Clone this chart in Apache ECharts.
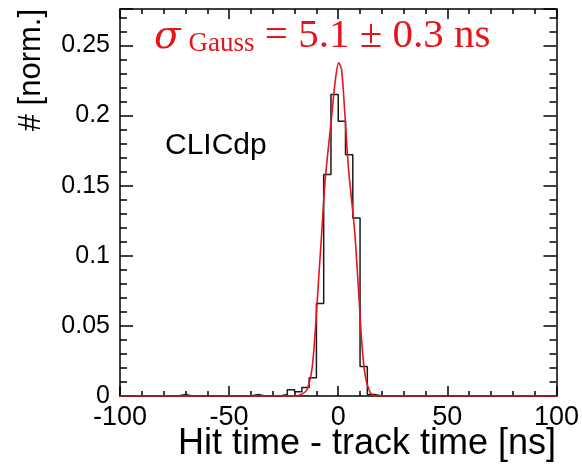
<!DOCTYPE html>
<html>
<head>
<meta charset="utf-8">
<title>CLICdp hit time</title>
<script src="https://cdn.jsdelivr.net/npm/echarts@6/dist/echarts.min.js"></script>
<style>
  html, body { margin: 0; padding: 0; background: #fff; }
</style>
</head>
<body>
<div id="res" style="width: 582px;height: 469px;"></div>
<script>
// histogram: 60 bins of 10/3 ns from -100 to 100
var binStart = -100;
var binWidth = 10 / 3;
var histValues = [
  0, 0, 0, 0, 0, 0, 0, 0, 0.001, 0,
  0, 0, 0, 0, 0, 0, 0, 0, 0.001, 0,
  0, 0, 0.001, 0.0045, 0.003, 0.006, 0.013, 0.066, 0.158, 0.215,
  0.196, 0.172, 0.127, 0.021, 0.001, 0, 0, 0, 0, 0,
  0, 0, 0, 0, 0, 0, 0, 0, 0, 0,
  0, 0, 0, 0, 0, 0, 0, 0, 0, 0
];

// gaussian fit curve
var fitX = [-100, -20, -17.5, -14.4, -12.1, -10.6, -9.1, -7.6, -6.1, -4.6, -3.0, -1.5, 0.2, 1.5, 3.1, 4.6, 6.1, 7.6, 9.1, 10.7, 12.2, 14.5, 16.8, 20, 100];
var fitY = [0, 0, 0.0007, 0.0043, 0.0186, 0.0448, 0.0805, 0.116, 0.152, 0.176, 0.1995, 0.223, 0.2376, 0.233, 0.1995, 0.164, 0.14, 0.116, 0.0805, 0.040, 0.016, 0.003, 0, 0, 0];

var xTicks = [-100, -50, 0, 50, 100];
var yTicks = [0, 0.05, 0.1, 0.15, 0.2, 0.25];

var histData = [];
for (var i = 0; i < histValues.length; i++) {
  histData.push([binStart + i * binWidth, histValues[i]]);
}
histData.push([100, histValues[histValues.length - 1]]);

var fitData = [];
for (var j = 0; j < fitX.length; j++) {
  fitData.push([fitX[j], fitY[j]]);
}

var font = 'Liberation Sans, Arial, Helvetica, sans-serif';
var red = '#e8141c';

var myChart = echarts.init(document.getElementById('res'));

function xAxisBase(pos, labels) {
  return {
    type: 'value',
    position: pos,
    min: xTicks[0],
    max: xTicks[xTicks.length - 1],
    interval: 50,
    axisLine: { show: true, onZero: false, lineStyle: { color: '#000', width: 1.5 } },
    axisTick: { show: true, inside: true, length: 10, lineStyle: { color: '#000', width: 1.5 } },
    minorTick: { show: true, splitNumber: 5, length: 5, lineStyle: { color: '#000', width: 1.5 } },
    splitLine: { show: false },
    axisLabel: { show: labels, color: '#000', fontSize: 27, fontFamily: font, margin: 8 }
  };
}

function yAxisBase(pos, labels) {
  return {
    type: 'value',
    position: pos,
    min: 0,
    max: 0.276,
    interval: 0.05,
    axisLine: { show: true, onZero: false, lineStyle: { color: '#000', width: 1.5 } },
    axisTick: { show: true, inside: true, length: 13, lineStyle: { color: '#000', width: 1.5 } },
    minorTick: { show: true, splitNumber: 5, length: 7, lineStyle: { color: '#000', width: 1.5 } },
    splitLine: { show: false },
    axisLabel: {
      show: labels, color: '#000', fontSize: 25, fontFamily: font, margin: 10,
      formatter: function (v) {
        for (var k = 0; k < yTicks.length; k++) {
          if (Math.abs(v - yTicks[k]) < 1e-6) return String(yTicks[k]);
        }
        return '';
      }
    }
  };
}

var option = {
  animation: false,
  grid: { left: 120, right: 25, top: 9, bottom: 73 },
  xAxis: [xAxisBase('bottom', true), xAxisBase('top', false)],
  yAxis: [yAxisBase('left', true), yAxisBase('right', false)],
  graphic: [
    {
      type: 'text', x: 47, y: 9, rotation: Math.PI / 2,
      style: { text: '# [norm.]', fill: '#000', font: '31px ' + font, align: 'right', verticalAlign: 'bottom' }
    },
    {
      type: 'text', x: 556, y: 426,
      style: { text: 'Hit time - track time [ns]', fill: '#000', font: '36px ' + font, align: 'right', verticalAlign: 'top' }
    },
    {
      type: 'text', left: 165, top: 131,
      style: { text: 'CLICdp', fill: '#000', font: '30px ' + font }
    },
    {
      type: 'text', left: 154, top: 16,
      style: {
        text: '{s|σ}{g|Gauss}{e| = 5.1 ± 0.3 ns}',
        fill: red,
        rich: {
          s: { fontSize: 39, fontStyle: 'italic', fontFamily: 'DejaVu Serif, serif', fill: red, verticalAlign: 'bottom' },
          g: { fontSize: 27, fontFamily: 'Liberation Serif, serif', fill: red, padding: [14, 0, 0, 8], verticalAlign: 'bottom' },
          e: { fontSize: 41, fontFamily: 'Liberation Serif, serif', fill: red, verticalAlign: 'bottom' }
        }
      }
    }
  ],
  series: [
    {
      name: 'hist',
      type: 'line',
      step: 'end',
      data: histData,
      symbol: 'none',
      lineStyle: { color: '#1a1a1a', width: 1.5 },
      z: 2
    },
    {
      name: 'fit',
      type: 'line',
      smooth: 0.3,
      data: fitData,
      symbol: 'none',
      lineStyle: { color: red, width: 1.6 },
      z: 3
    }
  ]
};
myChart.setOption(option);
</script>
</body>
</html>
